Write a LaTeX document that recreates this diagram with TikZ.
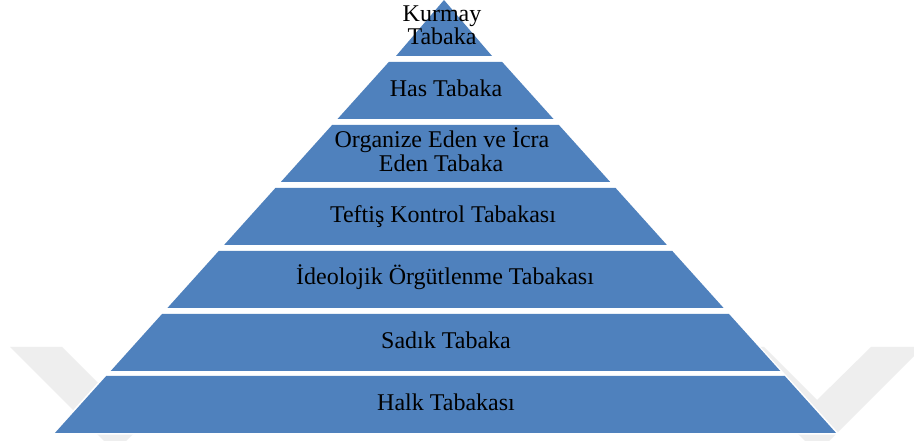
\documentclass[tikz,border=0pt]{standalone}
\usepackage{fontspec}
\setmainfont{Liberation Serif}
\definecolor{layerblue}{HTML}{4F81BD}
\definecolor{wmgray}{HTML}{EEEEEE}
\begin{document}
\begin{tikzpicture}[x=0.75pt,y=-0.75pt,
  layerfill/.style={fill=layerblue},
  wmark/.style={fill=wmgray},
  lbl/.style={anchor=base, font=\fontsize{18}{17.5}\selectfont, inner sep=0pt, text=black}]
\useasboundingbox (0,0) rectangle (914,441);
\fill[white] (0,0) rectangle (914,441);
% faint watermark
\fill[wmark] (10,347) -- (62,347) -- (115,400) -- (168,347) -- (220,347) -- (115,452) -- cycle;
\fill[wmark] (712,347) -- (764,347) -- (817,400) -- (871,347) -- (923,347) -- (817,453) -- cycle;
% white halo around pyramid
\draw[white, fill=white, line width=2.5pt, line join=miter] (444,0) -- (836.1,433) -- (54.9,433) -- cycle;
% layers
\fill[layerfill] (444,0) -- (492,56) -- (396,56) -- cycle;
\fill[layerfill] (388.8,62) -- (502.2,62) -- (553.5,119) -- (337.5,119) -- cycle;
\fill[layerfill] (332.1,125) -- (558.9,125) -- (610.2,182) -- (280.8,182) -- cycle;
\fill[layerfill] (275.4,188) -- (615.6,188) -- (666.9,245) -- (224.1,245) -- cycle;
\fill[layerfill] (218.7,251) -- (672.3,251) -- (723.6,308) -- (167.4,308) -- cycle;
\fill[layerfill] (162,314) -- (729,314) -- (780.3,371) -- (110.7,371) -- cycle;
\fill[layerfill] (106.2,376) -- (784.8,376) -- (836.1,433) -- (54.9,433) -- cycle;
% labels
\node[lbl] (k1) at (442,22) {Kurmay};
\node[lbl] (k2) at (442,45) {Tabaka};
\node[lbl] (has) at (446,97) {Has Tabaka};
\node[lbl] (org1) at (442,148) {Organize Eden ve İcra};
\node[lbl] (org2) at (441,172) {Eden Tabaka};
\node[lbl] (tef) at (443,223) {Teftiş Kontrol Tabakası};
\node[lbl] (ide) at (445,285) {İdeolojik Örgütlenme Tabakası};
\node[lbl] (sad) at (446,349) {Sadık Tabaka};
\node[lbl] (halk) at (446,411) {Halk Tabakası};
\end{tikzpicture}
\end{document}
